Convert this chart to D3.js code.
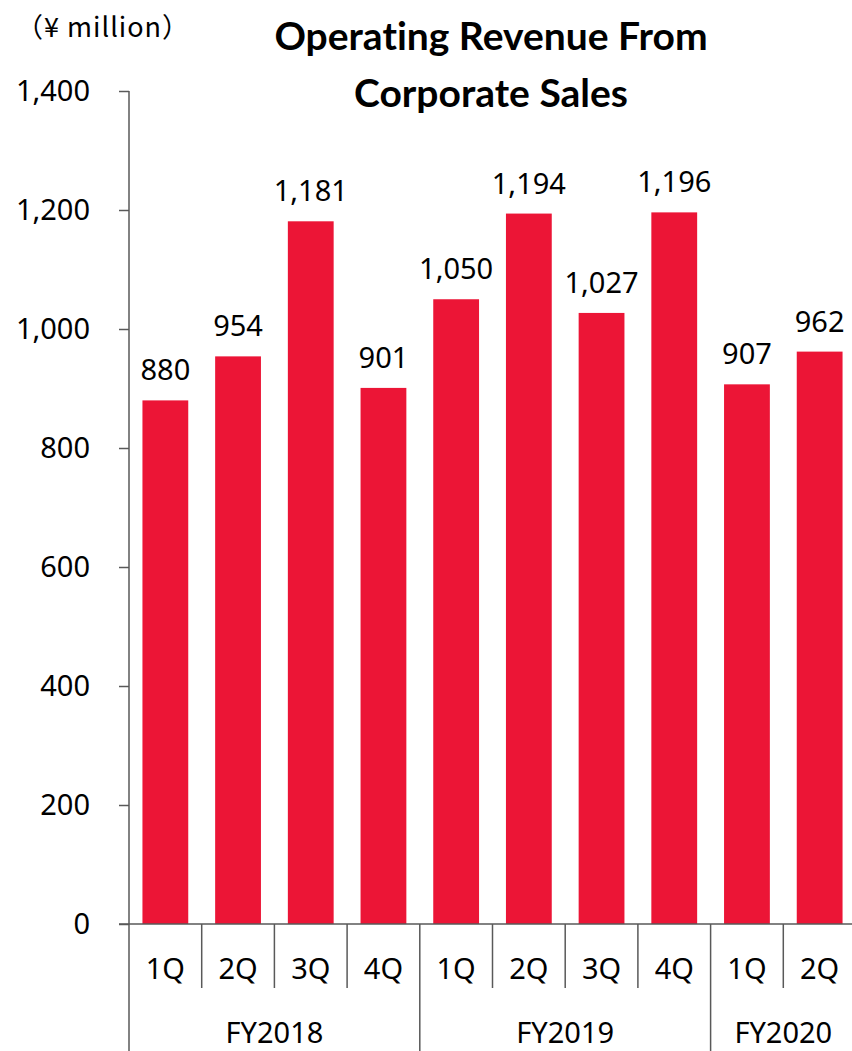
<!DOCTYPE html>
<html>
<head>
<meta charset="utf-8">
<script src="https://cdn.jsdelivr.net/npm/d3@7"></script>
<style>
  body { margin: 0; background: #fff; }
  text { fill: #000; }
</style>
</head>
<body>
<div id="chart"></div>
<script>
// Chart data
const quarters = ["1Q", "2Q", "3Q", "4Q", "1Q", "2Q", "3Q", "4Q", "1Q", "2Q"];
const values = [880, 954, 1181, 901, 1050, 1194, 1027, 1196, 907, 962];
const years = ["FY2018", "FY2019", "FY2020"];
const yearCounts = [4, 4, 2];
const yTicks = [0, 200, 400, 600, 800, 1000, 1200, 1400];

const width = 852, height = 1051;
const axisX = 129, zeroY = 924, topY = 91;
const labelFont = "'Noto Sans', 'Noto Sans CJK JP', sans-serif";
const labelSize = "29px";

const svg = d3.select("#chart")
    .append("svg")
    .attr("width", width)
    .attr("height", height);

// Scales
const x = d3.scaleBand()
    .domain(d3.range(values.length))
    .range([axisX, 856])
    .paddingInner(0.37)
    .paddingOuter(0.185);

const y = d3.scaleLinear()
    .domain([0, 1400])
    .range([zeroY, topY]);

const gap = (x.step() - x.bandwidth()) / 2;
const boundary = i => x(i) - gap;

// Bars
svg.selectAll("rect.bar")
    .data(values)
    .enter().append("rect")
    .attr("class", "bar")
    .attr("x", (d, i) => x(i))
    .attr("y", d => y(d))
    .attr("width", x.bandwidth())
    .attr("height", d => y(0) - y(d))
    .attr("fill", "#ec1536");

// Value labels
svg.selectAll("text.val")
    .data(values)
    .enter().append("text")
    .attr("class", "val")
    .attr("x", (d, i) => x(i) + x.bandwidth() / 2)
    .attr("y", d => y(d) - 20)
    .attr("text-anchor", "middle")
    .style("font-family", labelFont)
    .style("font-size", labelSize)
    .text(d => d3.format(",")(d));

// Y axis
const yAxis = svg.append("g")
    .attr("transform", `translate(${axisX},0)`)
    .call(d3.axisLeft(y).tickValues(yTicks).tickFormat(d3.format(",")).tickSizeInner(10).tickSizeOuter(0).tickPadding(29));
yAxis.select(".domain").remove();
yAxis.selectAll(".tick line").attr("stroke", "#595959").attr("stroke-width", 1.5);
yAxis.selectAll(".tick text")
    .style("font-family", labelFont)
    .style("font-size", labelSize)
    .attr("fill", "#000");

svg.append("line")
    .attr("x1", axisX).attr("x2", axisX)
    .attr("y1", topY).attr("y2", height)
    .attr("stroke", "#595959").attr("stroke-width", 1.5);

svg.append("line")
    .attr("x1", axisX - 10).attr("x2", width)
    .attr("y1", zeroY).attr("y2", zeroY)
    .attr("stroke", "#595959").attr("stroke-width", 1.5);

// Category dividers
const yearStarts = yearCounts.map((c, k) => d3.sum(yearCounts.slice(0, k)));
svg.selectAll("line.div")
    .data(d3.range(1, values.length))
    .enter().append("line")
    .attr("class", "div")
    .attr("x1", i => boundary(i)).attr("x2", i => boundary(i))
    .attr("y1", zeroY)
    .attr("y2", i => yearStarts.includes(i) ? height : 988)
    .attr("stroke", "#595959").attr("stroke-width", 1.5);

// Quarter labels
svg.selectAll("text.q")
    .data(quarters)
    .enter().append("text")
    .attr("class", "q")
    .attr("x", (d, i) => x(i) + x.bandwidth() / 2)
    .attr("y", 979)
    .attr("text-anchor", "middle")
    .style("font-family", labelFont)
    .style("font-size", labelSize)
    .text(d => d);

// Year labels
svg.selectAll("text.yr")
    .data(years)
    .enter().append("text")
    .attr("class", "yr")
    .attr("x", (d, k) => {
        const s = boundary(yearStarts[k]);
        const e = Math.min(boundary(yearStarts[k]) + x.step() * yearCounts[k], width + 4);
        return (s + e) / 2;
    })
    .attr("y", 1043)
    .attr("text-anchor", "middle")
    .style("font-family", labelFont)
    .style("font-size", labelSize)
    .text(d => d);

// Unit label
svg.append("text")
    .attr("x", 16)
    .attr("y", 37)
    .style("font-family", "'Noto Sans CJK JP', 'Noto Sans', sans-serif")
    .style("font-size", "27px")
    .style("letter-spacing", "1px")
    .text("（¥ million）");

// Title
const title = svg.append("text")
    .attr("text-anchor", "middle")
    .style("font-family", "Lato, 'Open Sans', sans-serif")
    .style("font-weight", "bold")
    .style("font-size", "39px")
    .style("font-variant-ligatures", "none");
title.append("tspan").attr("x", 491).attr("y", 50).text("Operating Revenue From");
title.append("tspan").attr("x", 491).attr("y", 107).text("Corporate Sales");
</script>
</body>
</html>
